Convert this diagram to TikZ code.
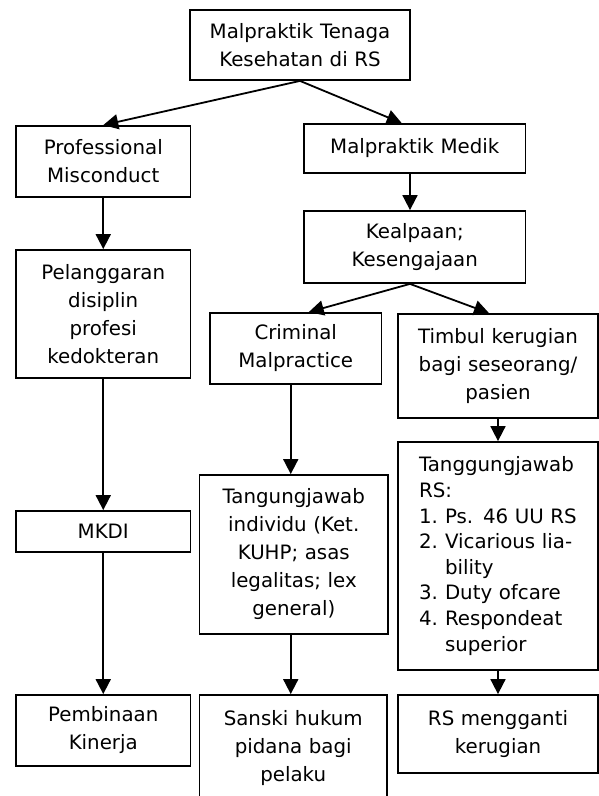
\documentclass[tikz,border=0pt]{standalone}
\usepackage{fontspec}
\setmainfont{DejaVu Sans}
\usetikzlibrary{arrows.meta}
\begin{document}
\begin{tikzpicture}[x=1pt,y=-1pt,
  box/.style={draw=black, line width=1.8pt, inner sep=0pt, align=center,
    font=\fontsize{19.8}{28}\selectfont},
  conn/.style={line width=1.8pt, -{Triangle[length=15pt,width=15pt]}}]
\fill[white] (0,0) rectangle (599,796);
\useasboundingbox (0,0) rectangle (599,796);
\clip (0,0) rectangle (599,796);

\node[box, minimum width=220pt, minimum height=70pt, text width=214pt] (top) at (300,45)
  {Malpraktik Tenaga\\Kesehatan di RS};
\node[box, minimum width=174.5pt, minimum height=71pt, text width=168pt] (pm) at (103.25,161.5)
  {Professional\\Misconduct};
\node[box, minimum width=221.5pt, minimum height=49pt, text width=214pt] (mm) at (414.75,148.5)
  {Malpraktik Medik};
\node[box, minimum width=221.5pt, minimum height=72pt, text width=214pt] (keal) at (414.75,247)
  {Kealpaan;\\Kesengajaan};
\node[box, minimum width=174.5pt, minimum height=128pt, text width=168pt] (pel) at (103.25,314)
  {Pelanggaran\\disiplin\\profesi\\kedokteran};
\node[box, minimum width=171.5pt, minimum height=71pt, text width=165pt] (crim) at (295.75,348.5)
  {Criminal\\Malpractice};
\node[box, minimum width=200pt, minimum height=104pt, text width=194pt] (timbul) at (498,366)
  {Timbul kerugian\\bagi seseorang/\\pasien};
\node[box, minimum width=200pt, minimum height=228pt, text width=158pt, align=left,
  font=\fontsize{19.8}{25.6}\selectfont] (trs) at (498,556)
  {Tanggungjawab\\RS:\\\makebox[26pt][l]{1.}Ps. 46 UU RS\\\makebox[26pt][l]{2.}Vicarious lia-\\\hspace*{26pt}bility\\\makebox[26pt][l]{3.}Duty ofcare\\\makebox[26pt][l]{4.}Respondeat\\\hspace*{26pt}superior};
\node[box, minimum width=188.5pt, minimum height=159pt, text width=182pt] (tang) at (293.75,554.5)
  {Tangungjawab\\individu (Ket.\\KUHP; asas\\legalitas; lex\\general)};
\node[box, minimum width=174.5pt, minimum height=41pt, text width=168pt] (mkdi) at (103.25,531.5)
  {MKDI};
\node[box, minimum width=174.5pt, minimum height=71pt, text width=168pt] (pemb) at (103.25,730.5)
  {Pembinaan\\Kinerja};
\node[box, minimum width=187.5pt, minimum height=106pt, text width=182pt] (sanski) at (293.25,748)
  {Sanski hukum\\pidana bagi\\pelaku};
\node[box, minimum width=200pt, minimum height=78pt, text width=194pt] (rsm) at (498,734)
  {RS mengganti\\kerugian};

\draw[conn] (top.south) -- (pm.north);
\draw[conn] (top.south) -- ([xshift=-13pt]mm.north);
\draw[conn] ([xshift=-4.75pt]mm.south) -- ([xshift=-4.75pt]keal.north);
\draw[conn] ([xshift=-4.75pt]keal.south) -- ([xshift=13pt]crim.north);
\draw[conn] ([xshift=-4.75pt]keal.south) -- ([xshift=-9pt]timbul.north);
\draw[conn] (pm.south) -- (pel.north);
\draw[conn] (pel.south) -- (mkdi.north);
\draw[conn] (mkdi.south) -- (pemb.north);
\draw[conn] ([xshift=-5pt]crim.south) -- ([xshift=-5pt]crim.south |- tang.north);
\draw[conn] ([xshift=-3pt]tang.south) -- ([xshift=-3pt]tang.south |- sanski.north);
\draw[conn] (timbul.south) -- (trs.north);
\draw[conn] (trs.south) -- (rsm.north);
\end{tikzpicture}
\end{document}
